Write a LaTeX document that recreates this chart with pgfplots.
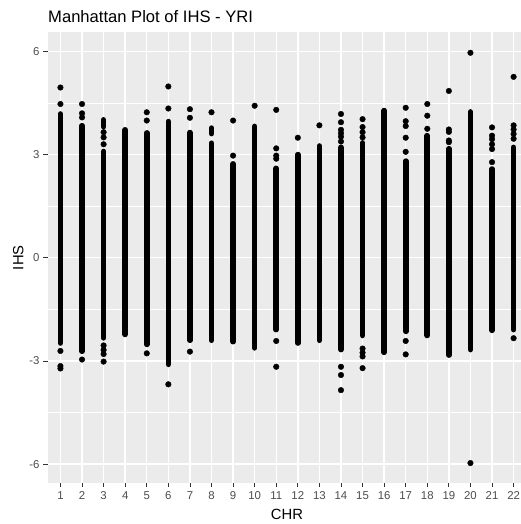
\documentclass[border=0pt]{standalone}
\usepackage{pgfplots}
\pgfplotsset{compat=1.18}
\usepackage{pgfplotstable}
\usepackage{fontspec}
\setmainfont{Liberation Sans}

\definecolor{panelbg}{HTML}{EBEBEB}
\definecolor{tickgray}{HTML}{333333}
\definecolor{labelgray}{HTML}{4D4D4D}

% dense runs of SNPs per chromosome (segment ends, nan separates runs)
\pgfplotstableread{
x y
1 4.18
1 -2.48
nan nan
2 3.84
2 -2.72
nan nan
3 4.01
3 3.81
nan nan
3 3.09
3 -2.33
nan nan
4 3.72
4 -2.23
nan nan
5 3.63
5 -2.52
nan nan
6 3.96
6 -3.10
nan nan
7 3.64
7 -2.40
nan nan
8 3.77
8 3.61
nan nan
8 3.33
8 -2.40
nan nan
9 2.73
9 -2.44
nan nan
10 3.82
10 -2.62
nan nan
11 2.60
11 -2.09
nan nan
12 3.00
12 -2.48
nan nan
13 3.25
13 -2.40
nan nan
14 3.21
14 -2.67
nan nan
15 3.34
15 -2.26
nan nan
16 4.28
16 -2.75
nan nan
17 2.81
17 -2.14
nan nan
18 3.55
18 -2.26
nan nan
19 3.17
19 -2.83
nan nan
20 4.24
20 -2.67
nan nan
21 2.58
21 -2.11
nan nan
22 3.21
22 -2.09
}\runs

% isolated SNPs
\pgfplotstableread{
x y
1 4.95
1 4.47
1 -2.71
1 -3.15
1 -3.22
2 4.47
2 4.20
2 4.08
2 -2.96
3 3.65
3 3.50
3 3.30
3 -2.55
3 -2.68
3 -2.80
3 -3.02
5 4.23
5 3.99
5 -2.78
6 4.98
6 4.34
6 -3.68
7 4.32
7 4.07
7 -2.73
8 4.23
9 3.99
9 2.97
10 4.42
11 4.30
11 3.18
11 2.97
11 2.88
11 -2.42
11 -3.17
12 3.49
13 3.85
14 4.18
14 3.94
14 3.72
14 3.62
14 3.52
14 3.38
14 -3.17
14 -3.41
14 -3.85
15 4.03
15 3.80
15 3.65
15 3.50
15 -2.64
15 -2.76
15 -2.87
15 -3.21
17 4.36
17 3.97
17 3.83
17 3.49
17 3.08
17 -2.42
17 -2.81
18 4.47
18 4.13
18 3.75
19 4.85
19 3.73
19 3.66
19 3.41
19 3.36
20 5.96
20 -5.97
21 3.79
21 3.55
21 3.45
21 3.30
21 3.16
21 2.78
22 5.26
22 3.85
22 3.73
22 3.60
22 3.46
22 -2.34
}\singles

\begin{document}
\begin{tikzpicture}
\begin{axis}[
  scale only axis,
  width=473pt, height=450.5pt,
  xmin=0.4, xmax=22.32,
  ymin=-6.55, ymax=6.55,
  axis background/.style={fill=panelbg},
  axis line style={draw=none},
  xtick={1,...,22},
  xticklabels={1,2,3,4,5,6,7,8,9,10,11,12,13,14,15,16,17,18,19,20,21,22},
  ytick={-6,-3,0,3,6},
  yticklabels={-6,-3,0,3,6},
  minor ytick={-4.5,-1.5,1.5,4.5},
  grid=both,
  major grid style={white, line width=1.4pt},
  minor grid style={white, line width=0.7pt},
  tick align=outside,
  xtick pos=bottom, ytick pos=left,
  major tick length=4pt,
  minor tick length=0pt,
  tick style={draw=tickgray, line width=0.8pt},
  tick label style={font=\fontsize{11.4}{13}\selectfont, text=labelgray},
  xticklabel style={yshift=-1pt},
  yticklabel style={xshift=-0.5pt},
  unbounded coords=jump,
]
\addplot[black, line width=5.6pt, line cap=round] table[x=x, y=y] {\runs};
\addplot[only marks, mark=*, mark size=2.8pt, mark options={fill=black, draw=none}] table[x=x, y=y] {\singles};
\end{axis}
% title and axis titles
\node[anchor=base west, font=\fontsize{16.6}{19}\selectfont, inner sep=0pt]
  at ([shift={(0.5pt,9.5pt)}]current axis.north west) {Manhattan Plot of IHS - YRI};
\node[anchor=base, font=\fontsize{14.8}{17}\selectfont, inner sep=0pt]
  at ([shift={(239.5pt,-37pt)}]current axis.south west) {CHR};
\node[anchor=base, rotate=90, font=\fontsize{14.8}{17}\selectfont, inner sep=0pt]
  at ([shift={(-24.2pt,0pt)}]current axis.west) {IHS};
\pgfresetboundingbox
\path ([shift={(-47.5pt,-41pt)}]current axis.south west)
  rectangle ([shift={(0pt,32.5pt)}]current axis.north east);
\end{tikzpicture}
\end{document}
